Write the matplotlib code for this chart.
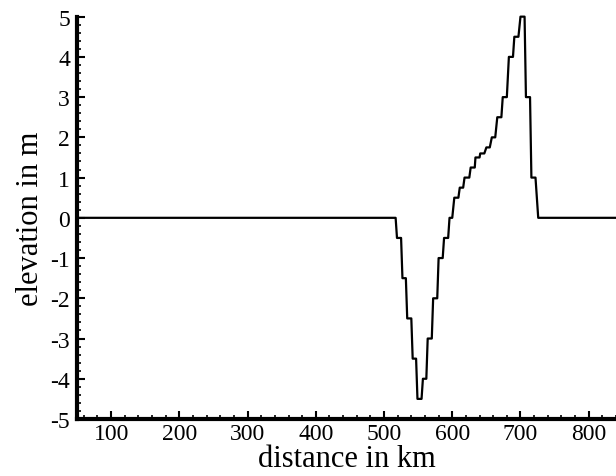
import matplotlib.pyplot as plt
from matplotlib.ticker import MultipleLocator

# Step profile: (start km, end km, elevation m)
step_start = [50, 519, 527, 534, 542, 549, 557, 564, 572, 580, 588, 596, 603, 611,
              618, 627, 634, 641, 650, 658, 666, 674, 683, 691, 700, 708, 716, 726]
step_end = [517, 525, 532, 540, 547, 555, 562, 570, 578, 586, 594, 600, 609, 616,
            625, 633, 640, 647, 655, 663, 672, 680, 689, 697, 706, 714, 722, 840]
step_elev = [0, -0.5, -1.5, -2.5, -3.5, -4.5, -4.0, -3.0, -2.0, -1.0, -0.5, 0.0, 0.5, 0.75,
             1.0, 1.25, 1.5, 1.6, 1.75, 2.0, 2.5, 3.0, 4.0, 4.5, 5.0, 3.0, 1.0, 0]

x_ticks = [100, 200, 300, 400, 500, 600, 700, 800]
y_ticks = [-5, -4, -3, -2, -1, 0, 1, 2, 3, 4, 5]

# build the polyline: each step is a flat segment
xs, zs = [], []
for a, b, z in zip(step_start, step_end, step_elev):
    xs += [a, b]
    zs += [z, z]

plt.rcParams['font.family'] = ['Liberation Serif', 'DejaVu Serif']
plt.rcParams['axes.unicode_minus'] = False

fig = plt.figure(figsize=(6.16, 4.77), dpi=100)
ax = fig.add_axes([0.125, 0.1195, 0.875, 0.8435])

ax.plot(xs, zs, color='black', linewidth=1.6, clip_on=False)

ax.set_xlim(50, 840)
ax.set_ylim(-5, 5)
ax.set_xticks(x_ticks)
ax.set_xticklabels([str(v) for v in x_ticks])
ax.set_yticks(y_ticks)
ax.set_yticklabels([str(v) for v in y_ticks])
ax.xaxis.set_minor_locator(MultipleLocator(20))
ax.yaxis.set_minor_locator(MultipleLocator(0.2))

for side in ['top', 'right']:
    ax.spines[side].set_visible(False)
for side in ['left', 'bottom']:
    ax.spines[side].set_linewidth(3)

ax.tick_params(which='major', direction='in', length=6, width=1.5, labelsize=17, pad=3)
ax.tick_params(which='minor', direction='in', length=3, width=1.2)
ax.tick_params(axis='y', which='major', pad=5)

ax.set_xlabel('distance in km', fontsize=22, labelpad=0)
ax.set_ylabel('elevation in m', fontsize=22, labelpad=4)

fig.savefig('out.png', dpi=100)
